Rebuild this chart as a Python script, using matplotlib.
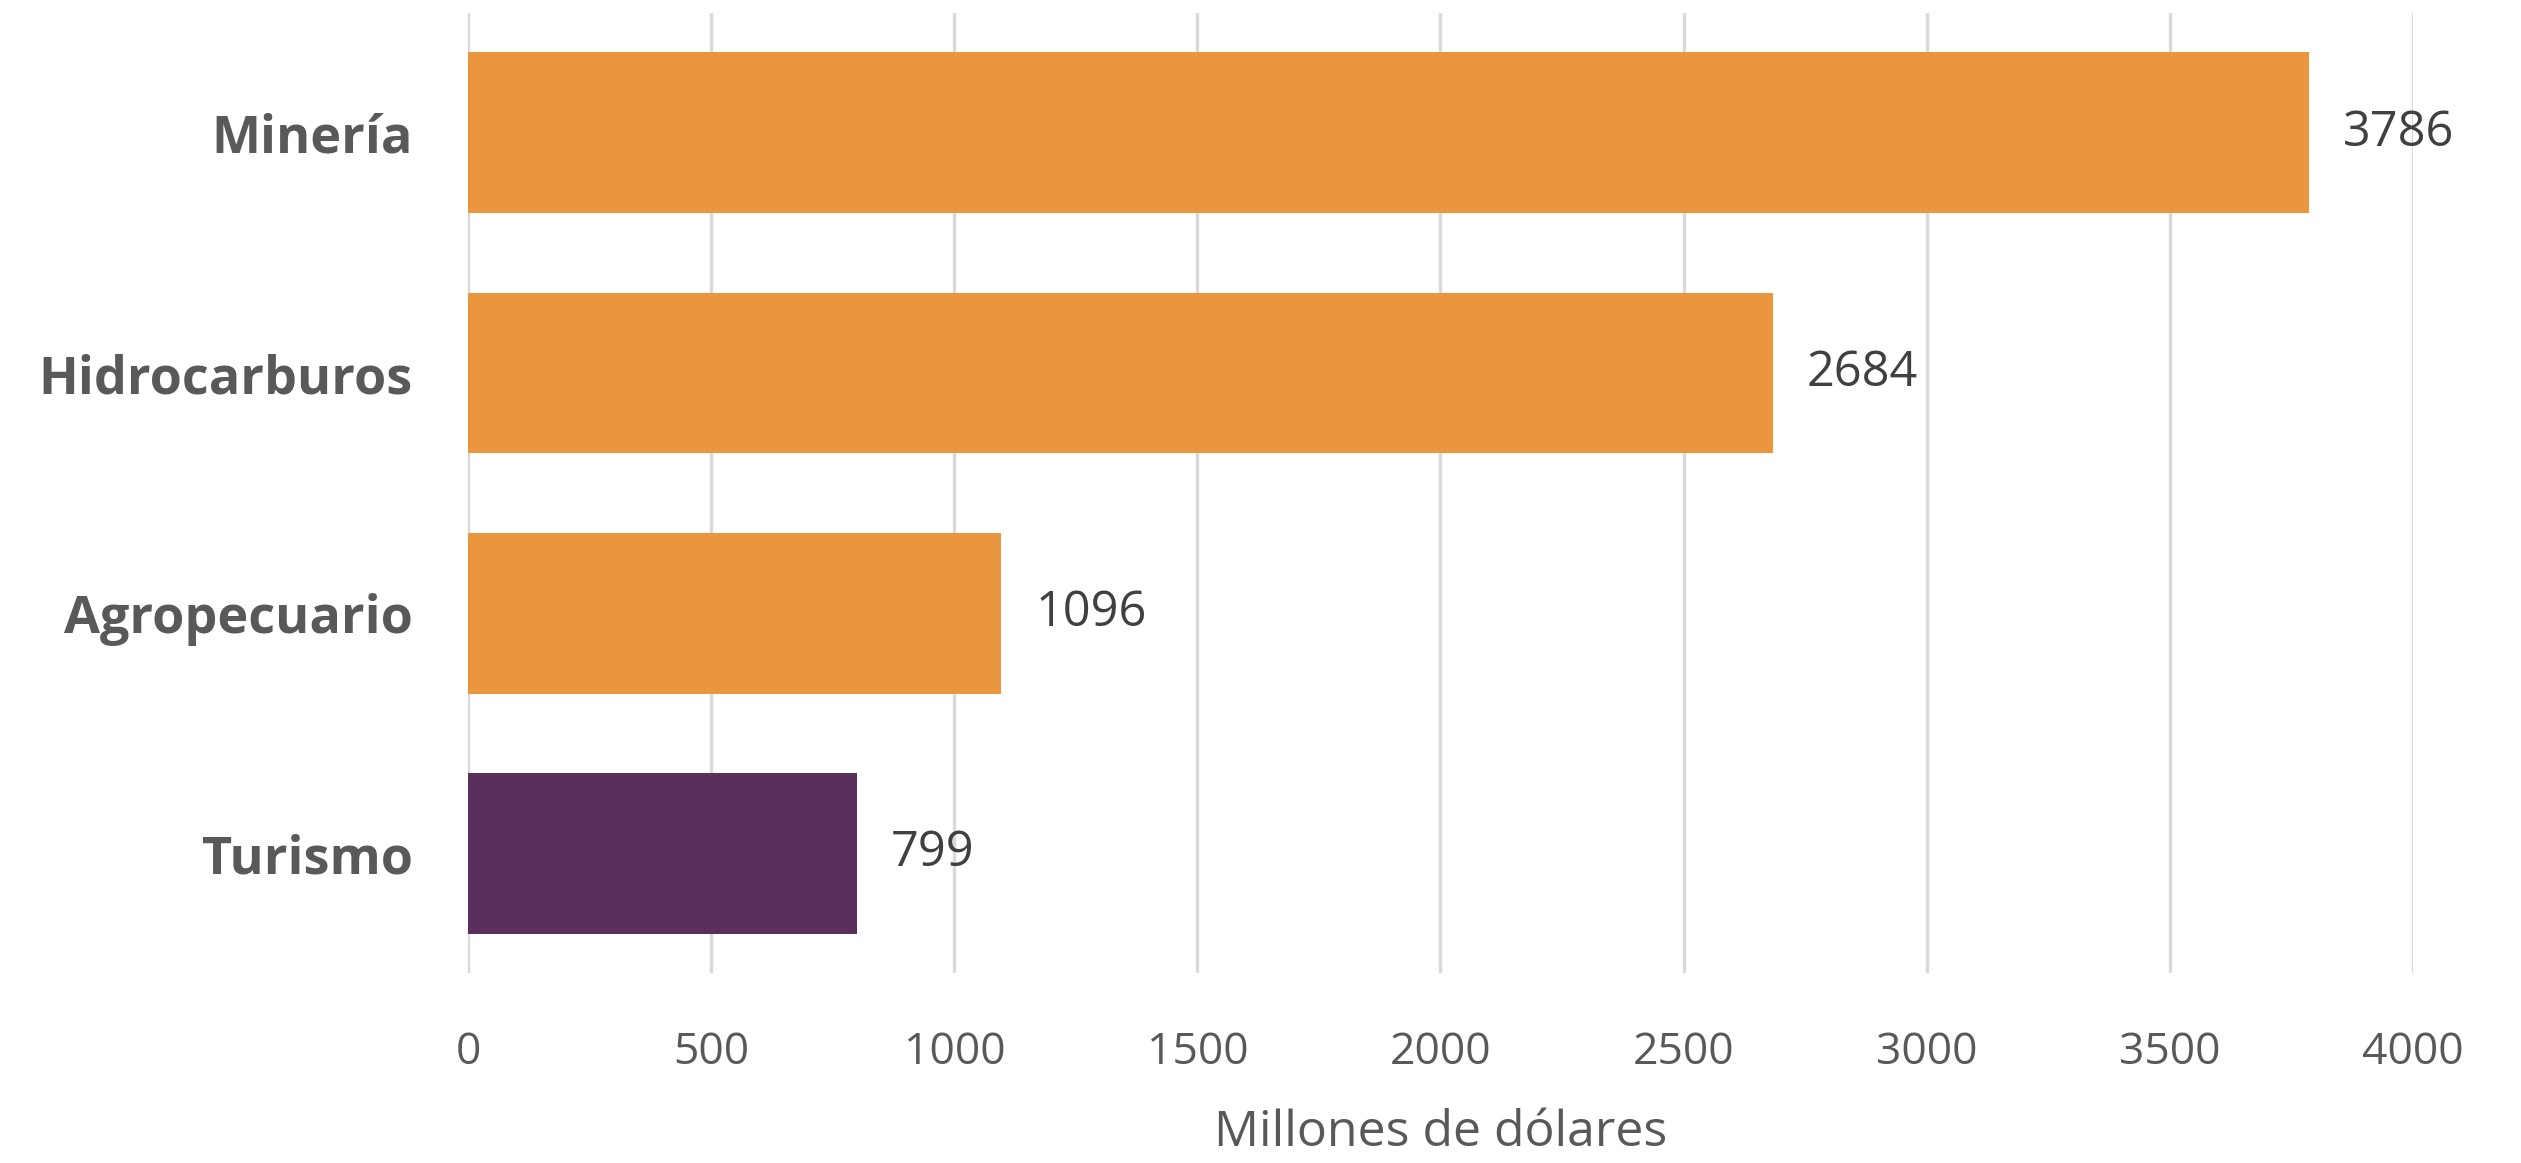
import numpy as np
import matplotlib
matplotlib.use("Agg")
from matplotlib import pyplot as plt

categories = ["Minería", "Hidrocarburos", "Agropecuario", "Turismo"]
values = [3786, 2684, 1096, 799]
bar_colors = ["#EA963F", "#EA963F", "#EA963F", "#5A2E5D"]
xticks = [0, 500, 1000, 1500, 2000, 2500, 3000, 3500, 4000]

plt.rcParams['font.family'] = ['Open Sans', 'DejaVu Sans']

fig = plt.figure(figsize=(25.21, 11.63), dpi=100)
ax = fig.add_axes([0.1858, 0.163, 0.7712, 0.826])

y = np.arange(len(categories))
ax.barh(y, values, height=0.67, color=bar_colors, zorder=3)

ax.set_xlim(0, 4000)
ax.set_ylim(3.5, -0.5)
ax.set_xticks(xticks)
ax.set_xticklabels([str(t) for t in xticks], fontsize=32, color="#595959")
ax.set_yticks(y)
ax.set_yticklabels(categories, fontsize=37.5, fontweight="bold", color="#595959")
ax.tick_params(axis="x", length=0, pad=41)
ax.tick_params(axis="y", length=0, pad=40)

ax.grid(axis="x", color="#D9D9D9", linewidth=2.4, zorder=0)
for s in ax.spines.values():
    s.set_visible(False)

for yi, v in zip(y, values):
    ax.text(v + 70, yi, str(v), va="center", ha="left", fontsize=35, color="#404040")

ax.set_xlabel("Millones de dólares", fontsize=36, color="#595959", labelpad=24)

fig.savefig("out.png", dpi=100)
